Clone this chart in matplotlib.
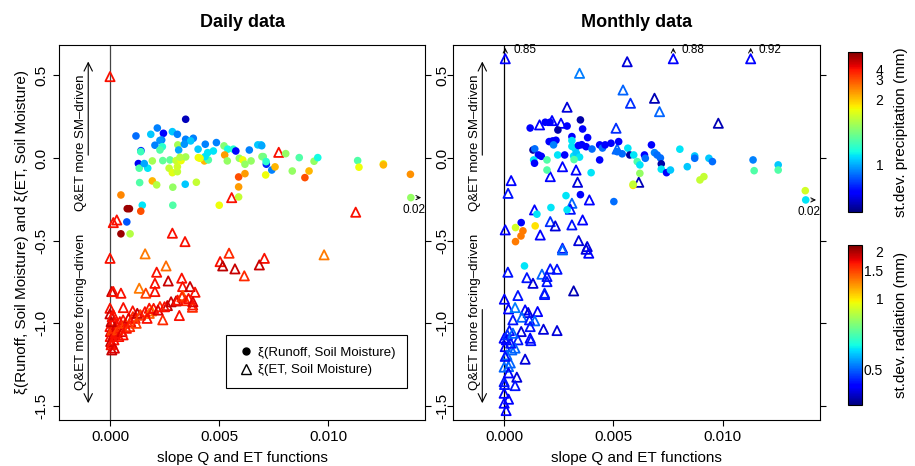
import numpy as np
import matplotlib
matplotlib.use("Agg")
import matplotlib.pyplot as plt
from matplotlib.colors import Normalize
from matplotlib.cm import ScalarMappable
from matplotlib.lines import Line2D

plt.rcParams['font.family'] = ['Liberation Sans', 'DejaVu Sans']
plt.rcParams['axes.unicode_minus'] = False

# ---- daily data: xi(Runoff, SM) coloured by st.dev. precipitation ----
daily_q_x = [0.00347, 0.00119, 0.00217, 0.00245, 0.00187, 0.00286, 0.00309, 0.00237, 0.00229, 0.00206,
             0.00240, 0.00229, 0.00142, 0.00141, 0.00311, 0.00315, 0.00347, 0.00382, 0.00370, 0.00341,
             0.00437, 0.00488, 0.00404, 0.00474, 0.00448, 0.00523, 0.00540, 0.00566, 0.00577, 0.00639,
             0.00678, 0.00693, 0.00130, 0.00134, 0.00173, 0.00157, 0.00194, 0.00242, 0.00275, 0.00303,
             0.00326, 0.00347, 0.00321, 0.00271, 0.00286, 0.00309, 0.00309, 0.00405, 0.00433, 0.00451,
             0.00436, 0.00526, 0.00538, 0.00593, 0.00609, 0.00619, 0.00647, 0.00590, 0.00619, 0.00590,
             0.00590, 0.00501, 0.00697, 0.00717, 0.00714, 0.00136, 0.00194, 0.00214, 0.00288, 0.00345,
             0.00396, 0.00050, 0.00079, 0.00089, 0.00148, 0.00141, 0.00288, 0.00696, 0.00703, 0.00716,
             0.00742, 0.00757, 0.00806, 0.00836, 0.00868, 0.00913, 0.00894, 0.00936, 0.00953, 0.01136,
             0.01142, 0.01254, 0.01254, 0.01378, 0.02, 0.00077, 0.00050, 0.00092, 0.00413]
daily_q_y = [0.234, 0.133, 0.181, 0.149, 0.143, 0.159, 0.143, 0.109, 0.106, 0.077,
             0.068, 0.048, 0.044, 0.038, 0.079, 0.048, 0.113, 0.119, 0.103, 0.083,
             0.083, 0.093, 0.053, 0.042, 0.032, 0.073, 0.053, 0.053, 0.042, 0.048,
             0.079, 0.079, -0.034, -0.062, -0.062, -0.034, -0.018, -0.016, -0.012, -0.016,
             -0.016, 0.006, 0.004, -0.062, -0.089, -0.083, -0.053, 0.002, -0.018, -0.012,
             0.008, 0.018, -0.018, -0.002, -0.012, -0.038, -0.018, -0.115, -0.095, -0.175,
             -0.236, -0.286, 0.008, -0.038, -0.103, -0.149, -0.139, -0.163, -0.177, -0.159,
             -0.147, -0.224, -0.307, -0.307, -0.286, -0.322, -0.286, 0.074, 0.008, -0.022,
             -0.073, -0.054, 0.026, -0.079, 0.002, -0.079, -0.119, -0.020, 0.002, -0.016,
             -0.056, -0.036, -0.042, -0.099, -0.240, -0.387, -0.459, -0.459, -0.002]
daily_q_prec = [0.52, 0.85, 0.9, 0.63, 1.05, 1.05, 0.9, 0.9, 0.95, 0.9,
                1.2, 1.3, 0.7, 1.25, 1.55, 1.0, 0.9, 0.9, 1.05, 0.95,
                0.9, 0.9, 1.05, 1.1, 1.1, 1.45, 1.15, 1.2, 0.63, 0.9,
                1.05, 1.05, 0.6, 1.3, 1.1, 1.0, 1.55, 1.35, 1.35, 1.65,
                1.8, 1.55, 1.6, 1.65, 1.75, 1.65, 1.7, 1.8, 2.1, 1.3,
                1.1, 2.3, 1.5, 1.5, 1.8, 1.5, 1.5, 3.0, 2.3, 2.3,
                1.65, 1.8, 1.5, 0.7, 1.8, 1.3, 2.1, 1.6, 1.5, 1.05,
                1.65, 2.5, 5.8, 5.8, 1.1, 3.0, 1.3, 1.0, 1.4, 1.2,
                0.9, 2.1, 1.5, 1.5, 1.3, 2.1, 3.0, 1.5, 1.15, 1.3,
                1.8, 1.75, 2.1, 2.4, 1.5, 0.8, 5.8, 1.6, 1.8]

# ---- daily data: xi(ET, SM) coloured by st.dev. radiation ----
daily_et_x = [0.0, 0.00774, 0.00558, 0.01127, 0.00015, 0.00031, 0.00286, 0.00344, 0.0, 0.00161,
              0.00982, 0.00546, 0.00505, 0.00517, 0.00573, 0.00616, 0.00708, 0.00685, 0.00214, 0.00257,
              0.00206, 0.00267, 0.00329, 0.00008, 0.00015, 0.00050, 0.00134, 0.00164, 0.00206, 0.00333,
              0.00367, 0.00390, 0.00333, 0.00347, 0.00303, 0.00379, 0.00378, 0.00263, 0.00229, 0.00180,
              0.00318, 0.00242, 0.00061, 0.00104, 0.0, 0.0, 0.00138, 0.00191, 0.00015, 0.00008,
              0.0, 0.00002, 0.00001, 0.00003, 0.00005, 0.00010, 0.00012, 0.00015, 0.00018, 0.00020,
              0.00025, 0.00030, 0.00035, 0.00040, 0.00045, 0.00050, 0.00055, 0.00060, 0.00070, 0.00075,
              0.00085, 0.00095, 0.00105, 0.00115, 0.00125, 0.00140, 0.00160, 0.00180, 0.00200, 0.00220,
              0.00250, 0.00280, 0.00310, 0.00330, 0.00360, 0.00380, 0.00005, 0.00008, 0.00020, 0.00010,
              0.00090, 0.00060, 0.00120, 0.00170]
daily_et_y = [0.492, 0.034, -0.240, -0.328, -0.391, -0.375, -0.455, -0.506, -0.607, -0.580,
              -0.586, -0.576, -0.627, -0.653, -0.671, -0.713, -0.607, -0.647, -0.691, -0.653,
              -0.758, -0.744, -0.727, -0.808, -0.808, -0.818, -0.788, -0.818, -0.808, -0.778,
              -0.778, -0.812, -0.832, -0.863, -0.865, -0.889, -0.903, -0.893, -0.899, -0.909,
              -0.953, -0.979, -0.905, -0.925, -0.909, -0.943, -0.949, -0.925, -0.949, -1.161,
              -1.02, -1.05, -1.08, -1.11, -1.13, -1.04, -1.00, -1.07, -1.10, -1.03,
              -1.06, -1.01, -1.04, -1.08, -0.99, -1.02, -1.05, -0.98, -1.00, -1.03,
              -0.97, -0.99, -0.96, -0.97, -0.94, -0.95, -0.93, -0.94, -0.91, -0.92,
              -0.90, -0.87, -0.86, -0.84, -0.85, -0.87, -0.99, -1.12, -1.15, -0.96,
              -1.02, -1.07, -1.00, -0.97]
daily_et_rad = [1.7, 1.7, 1.7, 1.7, 1.7, 1.7, 1.7, 1.7, 1.7, 1.3,
                1.3, 1.6, 1.7, 1.95, 1.9, 1.6, 1.7, 1.9, 1.7, 1.35,
                1.7, 1.9, 1.7, 1.9, 1.7, 1.7, 1.3, 1.5, 1.7, 1.7,
                1.9, 1.7, 1.4, 1.6, 1.9, 1.7, 1.6, 1.9, 1.6, 1.7,
                1.7, 1.6, 1.7, 1.7, 1.7, 1.9, 1.7, 1.3, 1.7, 1.9,
                1.7, 1.8, 1.7, 1.9, 1.7, 1.5, 1.7, 1.8, 1.7, 1.6,
                1.7, 1.8, 1.5, 1.7, 1.7, 1.6, 1.8, 1.7, 1.5, 1.7,
                1.8, 1.7, 1.6, 1.7, 1.9, 1.5, 1.7, 1.4, 1.7, 1.8,
                1.7, 1.9, 1.7, 1.6, 1.7, 1.8, 1.9, 1.7, 1.8, 1.7,
                1.6, 1.7, 1.5, 1.7]

# ---- monthly data: xi(Runoff, SM) coloured by st.dev. precipitation ----
monthly_q_x = [0.00119, 0.00188, 0.00210, 0.00246, 0.00288, 0.00349, 0.00359, 0.00310, 0.00206, 0.00222,
               0.00237, 0.00382, 0.00310, 0.00132, 0.00140, 0.00157, 0.00170, 0.00135, 0.00139, 0.00196,
               0.00196, 0.00226, 0.00245, 0.00277, 0.00310, 0.00325, 0.00318, 0.00330, 0.00345, 0.00355,
               0.00340, 0.00320, 0.00375, 0.00402, 0.00437, 0.00450, 0.00462, 0.00489, 0.00524, 0.00437,
               0.00398, 0.00517, 0.00540, 0.00566, 0.00575, 0.00593, 0.00609, 0.00621, 0.00621, 0.00590,
               0.00590, 0.00642, 0.00646, 0.00674, 0.00688, 0.00700, 0.00715, 0.00719, 0.00719, 0.00743,
               0.00761, 0.00804, 0.00838, 0.00872, 0.00872, 0.00896, 0.00914, 0.00937, 0.00953, 0.01139,
               0.01144, 0.01254, 0.01254, 0.01378, 0.02, 0.00283, 0.00349, 0.00502, 0.00214, 0.00288,
               0.00150, 0.00078, 0.00052, 0.00142, 0.00086, 0.00077, 0.00052, 0.00093]
monthly_q_y = [0.181, 0.216, 0.216, 0.169, 0.193, 0.230, 0.175, 0.129, 0.099, 0.103,
               0.107, 0.123, 0.105, 0.048, 0.055, 0.018, 0.010, -0.012, -0.032, -0.012,
               -0.073, 0.079, 0.018, 0.018, 0.070, 0.055, 0.012, 0.030, 0.005, 0.080,
               0.075, -0.010, 0.068, 0.054, 0.079, 0.060, 0.079, 0.089, 0.099, -0.012,
               -0.089, 0.038, 0.025, 0.059, 0.018, 0.018, -0.022, -0.042, -0.093, -0.166,
               -0.159, 0.018, -0.002, 0.079, 0.032, 0.018, 0.000, -0.036, -0.068, -0.089,
               -0.073, 0.053, -0.053, 0.012, -0.002, -0.133, -0.113, -0.002, -0.022, -0.012,
               -0.077, -0.042, -0.073, -0.198, -0.254, -0.228, -0.222, -0.264, -0.300, -0.314,
               -0.340, -0.391, -0.421, -0.411, -0.441, -0.472, -0.506, -0.653]
monthly_q_prec = [0.63, 0.63, 0.63, 0.5, 0.63, 0.5, 0.63, 0.63, 0.63, 0.63,
                  0.63, 0.63, 1.1, 0.5, 0.85, 0.63, 0.63, 1.1, 0.63, 1.3,
                  1.3, 0.9, 1.1, 0.63, 1.1, 1.1, 1.1, 1.05, 1.1, 0.63,
                  0.63, 1.3, 0.63, 0.85, 0.63, 0.85, 0.63, 0.63, 0.63, 0.63,
                  1.1, 0.85, 0.85, 1.1, 0.5, 1.1, 1.3, 1.1, 1.5, 1.9,
                  1.65, 0.63, 0.85, 0.63, 0.9, 0.85, 0.85, 0.5, 1.1, 0.63,
                  1.05, 1.1, 1.05, 1.05, 0.85, 1.65, 1.65, 1.05, 0.85, 0.9,
                  1.3, 1.05, 1.3, 1.7, 1.1, 1.1, 0.63, 0.85, 1.1, 1.1,
                  1.1, 0.63, 1.7, 1.9, 2.6, 2.6, 2.6, 1.1]

# ---- monthly data: xi(ET, SM) coloured by st.dev. radiation ----
monthly_et_x = [0.00005, 0.00563, 0.00774, 0.01128, 0.00345, 0.00544, 0.00578, 0.00688, 0.00711, 0.00288,
                0.00980, 0.00512, 0.00162, 0.00219, 0.00260, 0.00517, 0.00267, 0.00329, 0.00211, 0.00336,
                0.00616, 0.00032, 0.00018, 0.00390, 0.00139, 0.00310, 0.00303, 0.00211, 0.00234, 0.00310,
                0.00359, 0.00005, 0.00165, 0.00341, 0.00380, 0.00267, 0.00267, 0.00375, 0.00387, 0.00017,
                0.00104, 0.00132, 0.00173, 0.00196, 0.00211, 0.00242, 0.00196, 0.00185, 0.00185, 0.00318,
                0.00063, 0.00001, 0.00020, 0.00050, 0.00096, 0.00110, 0.00153, 0.00040, 0.00081, 0.00116,
                0.00140, 0.00119, 0.00180, 0.00242, 0.00078, 0.00024, 0.0, 0.00063, 0.00119, 0.00122,
                0.00005, 0.00035, 0.00050, 0.00096, 0.00012, 0.0, 0.00020, 0.00028, 0.00058, 0.0,
                0.00002, 0.00050, 0.0, 0.00020, 0.0, 0.00009, 0.00010, 0.00015, 0.00030, 0.00005,
                0.00040, 0.00020]
monthly_et_y = [0.85, 0.582, 0.88, 0.92, 0.512, 0.411, 0.331, 0.361, 0.280, 0.307,
                0.210, 0.180, 0.200, 0.226, 0.210, 0.054, -0.053, -0.073, -0.113, -0.147,
                -0.147, -0.137, -0.214, -0.254, -0.314, -0.274, -0.310, -0.385, -0.411, -0.405,
                -0.375, -0.435, -0.466, -0.500, -0.536, -0.546, -0.556, -0.552, -0.576, -0.691,
                -0.724, -0.758, -0.703, -0.717, -0.671, -0.673, -0.748, -0.818, -0.826, -0.804,
                -0.832, -0.854, -0.913, -0.905, -0.919, -0.935, -0.929, -0.979, -0.963, -0.979,
                -0.985, -1.020, -1.036, -1.044, -1.050, -1.044, -1.090, -1.100, -1.090, -1.105,
                -1.141, -1.161, -1.150, -1.217, -1.191, -1.265, -1.262, -1.240, -1.326, -1.353,
                -1.370, -1.377, -1.423, -1.459, -1.483, -1.528, -1.100, -1.070, -1.120, -1.200,
                -1.060, -1.300]
monthly_et_rad = [0.42, 0.40, 0.42, 0.42, 0.52, 0.50, 0.46, 0.38, 0.50, 0.40,
                  0.38, 0.46, 0.42, 0.42, 0.42, 0.50, 0.42, 0.42, 0.42, 0.40,
                  0.38, 0.42, 0.44, 0.42, 0.42, 0.50, 0.44, 0.46, 0.40, 0.44,
                  0.42, 0.42, 0.42, 0.40, 0.40, 0.44, 0.50, 0.40, 0.42, 0.44,
                  0.44, 0.40, 0.50, 0.44, 0.44, 0.44, 0.44, 0.46, 0.44, 0.38,
                  0.44, 0.42, 0.42, 0.52, 0.42, 0.40, 0.42, 0.44, 0.50, 0.44,
                  0.50, 0.44, 0.40, 0.40, 0.40, 0.44, 0.42, 0.44, 0.42, 0.44,
                  0.42, 0.50, 0.50, 0.40, 0.50, 0.50, 0.50, 0.50, 0.40, 0.44,
                  0.44, 0.44, 0.42, 0.42, 0.42, 0.42, 0.42, 0.46, 0.44, 0.44,
                  0.50, 0.42]

# colour bar scales: value -> position along the bar
prec_knots = [0.45, 1, 2, 3, 4, 6.5]
prec_pos = [0.0, 0.292, 0.70, 0.825, 0.89, 1.0]
rad_knots = [0.353, 0.5, 1, 1.5, 2, 2.21]
rad_pos = [0.0, 0.223, 0.667, 0.84, 0.958, 1.0]
prec_ticks = [1, 2, 3, 4]
rad_ticks = [0.5, 1, 1.5, 2]

cmap = plt.get_cmap('jet')
X_MIN, X_MAX = -0.00234, 0.01445
Y_MIN, Y_MAX = -1.585, 0.685
X_CAP, Y_CAP = 0.0138, 0.6


def bar_pos(v, knots, pos):
    return np.interp(np.log(v), np.log(knots), pos)


def draw_panel(ax, qx, qy, qprec, ex, ey, erad, title, zero_col):
    ax.axvline(0, color=zero_col, lw=0.9, zorder=1)

    ex = np.array(ex)
    ey = np.array(ey)
    ex_p = np.minimum(ex, X_CAP)
    ey_p = np.minimum(ey, Y_CAP)
    ecol = cmap(bar_pos(erad, rad_knots, rad_pos))
    ax.scatter(ex_p, ey_p, s=44, marker='^', facecolors='none', edgecolors=ecol,
               linewidths=1.3, zorder=2)

    qx = np.array(qx)
    qy = np.array(qy)
    qx_p = np.minimum(qx, X_CAP)
    qy_p = np.minimum(qy, Y_CAP)
    qcol = cmap(bar_pos(qprec, prec_knots, prec_pos))
    ax.scatter(qx_p, qy_p, s=30, marker='o', c=qcol, linewidths=0, zorder=3)

    # values outside the plotting range
    for x, y, xp in zip(np.r_[ex, qx], np.r_[ey, qy], np.r_[ex_p, qx_p]):
        if y > Y_CAP:
            ax.annotate('', xy=(xp, 0.683), xytext=(xp, 0.628),
                        arrowprops=dict(arrowstyle='->,head_length=0.3,head_width=0.15', lw=0.7))
            ax.text(xp + 0.00037, 0.652, f'{y:.2f}', fontsize=8.5, va='center', ha='left')
        if x > X_CAP:
            yp = min(y, Y_CAP)
            ax.annotate('', xy=(0.01440, yp), xytext=(0.01395, yp),
                        arrowprops=dict(arrowstyle='->,head_length=0.3,head_width=0.15', lw=0.7))
            ax.text(0.01395, yp - 0.072, f'{x:.2f}', fontsize=8.5, va='center', ha='center')

    # direction hints
    arw = dict(arrowstyle='->,head_length=0.6,head_width=0.3', lw=0.8)
    ax.annotate('', xy=(-0.001, 0.6), xytext=(-0.001, 0.0), arrowprops=arw)
    ax.annotate('', xy=(-0.001, -1.5), xytext=(-0.001, -0.9), arrowprops=arw)
    ax.text(-0.00133, 0.09, 'Q&ET more SM\u2013driven', rotation=90, fontsize=9.5,
            ha='center', va='center')
    ax.text(-0.00133, -0.93, 'Q&ET more forcing\u2013driven', rotation=90, fontsize=9.5,
            ha='center', va='center')

    ax.set_xlim(X_MIN, X_MAX)
    ax.set_ylim(Y_MIN, Y_MAX)
    ax.set_xticks([0, 0.005, 0.010])
    ax.set_xticklabels(['0.000', '0.005', '0.010'])
    ax.set_yticks([-1.5, -1.0, -0.5, 0.0, 0.5])
    ax.set_yticklabels(['-1.5', '-1.0', '-0.5', '0.0', '0.5'])
    ax.tick_params(labelsize=11, length=4, width=0.8, direction='out')
    ax.tick_params(axis='y', labelrotation=90)
    for lab in ax.get_yticklabels():
        lab.set_va('center')
    for sp in ax.spines.values():
        sp.set_linewidth(0.8)
    ax.set_xlabel('slope Q and ET functions', fontsize=11, labelpad=5)
    ax.set_title(title, fontsize=13, fontweight='bold', pad=13)


fig = plt.figure(figsize=(9.15, 4.66), dpi=100)
ax1 = fig.add_axes([0.0645, 0.0987, 0.400, 0.8054])
ax2 = fig.add_axes([0.4951, 0.0987, 0.401, 0.8054])

draw_panel(ax1, daily_q_x, daily_q_y, daily_q_prec, daily_et_x, daily_et_y, daily_et_rad,
           'Daily data', '#444444')
draw_panel(ax2, monthly_q_x, monthly_q_y, monthly_q_prec, monthly_et_x, monthly_et_y, monthly_et_rad,
           'Monthly data', 'black')

ax1.set_ylabel('\u03be(Runoff, Soil Moisture) and \u03be(ET, Soil Moisture)', fontsize=11, labelpad=4)
ax1.tick_params(axis='y', right=True, labelright=True)
for lab in ax1.get_yticklabels(which='both'):
    lab.set_va('center')
ax2.tick_params(axis='y', left=True, labelleft=False, right=True)

handles = [Line2D([], [], marker='o', color='black', ls='none', markersize=5),
           Line2D([], [], marker='^', markerfacecolor='none', markeredgecolor='black',
                  ls='none', markersize=7, markeredgewidth=1.0)]
leg = ax1.legend(handles, ['\u03be(Runoff, Soil Moisture)', '\u03be(ET, Soil Moisture)'],
                 loc='lower right', bbox_to_anchor=(0.951, 0.085), borderaxespad=0,
                 fancybox=False, framealpha=1, edgecolor='black', fontsize=9.5,
                 handletextpad=0.3, handlelength=1.2, borderpad=0.9, labelspacing=0.4)
leg.get_frame().set_linewidth(0.8)

# colour bars
cax1 = fig.add_axes([0.9271, 0.5457, 0.0153, 0.3433])
cax2 = fig.add_axes([0.9271, 0.1309, 0.0153, 0.3433])
for cax, ticks, knots, pos, label in [
        (cax1, prec_ticks, prec_knots, prec_pos, 'st.dev. precipitation (mm)'),
        (cax2, rad_ticks, rad_knots, rad_pos, 'st.dev. radiation (mm)')]:
    cb = fig.colorbar(ScalarMappable(Normalize(0, 1), cmap), cax=cax,
                      ticks=bar_pos(ticks, knots, pos))
    cb.set_ticklabels([f'{t:g}' for t in ticks])
    cb.ax.tick_params(length=0, labelsize=10, pad=15)
    for lab in cb.ax.get_yticklabels():
        lab.set_ha('right')
    cb.outline.set_linewidth(0.8)
    cb.set_label(label, fontsize=11, labelpad=8)

fig.savefig('out.png', dpi=100)
